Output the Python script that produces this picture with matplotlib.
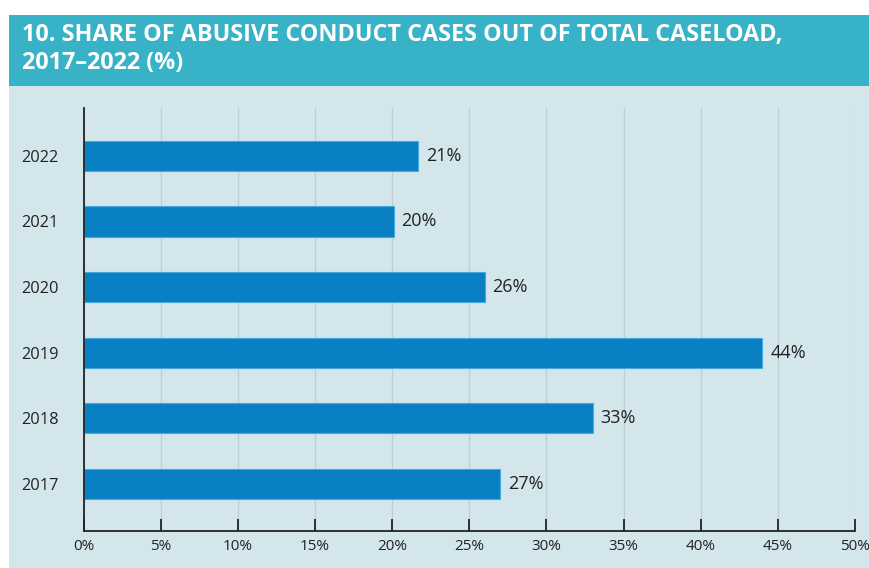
import matplotlib
matplotlib.use('Agg')
from matplotlib import pyplot as plt
from matplotlib.patches import Rectangle
from matplotlib.ticker import FuncFormatter

years = ['2017', '2018', '2019', '2020', '2021', '2022']
shares = [27.0, 33.0, 44.0, 26.0, 20.1, 21.7]
labels = ['27%', '33%', '44%', '26%', '20%', '21%']
xticks = [0, 5, 10, 15, 20, 25, 30, 35, 40, 45, 50]
title = '10. SHARE OF ABUSIVE CONDUCT CASES OUT OF TOTAL CASELOAD,\n2017\u20132022 (%)'

plt.rcParams['font.family'] = ['Open Sans', 'DejaVu Sans']

W, H = 869, 568
fig = plt.figure(figsize=(W / 100, H / 100), dpi=100)
fig.patch.set_facecolor('white')

# panel and header band
fig.patches.append(Rectangle((9 / W, 0), 1, 482 / H, transform=fig.transFigure,
                             facecolor='#d2e6ec', edgecolor='none', zorder=-2))
fig.patches.append(Rectangle((9 / W, 482 / H), 1, 71 / H, transform=fig.transFigure,
                             facecolor='#38b2c6', edgecolor='none', zorder=-2))
fig.text(22 / W, 1 - 23 / H, title, color='white', fontsize=16.8, fontweight='bold',
         va='top', ha='left', linespacing=1.2)

ax = fig.add_axes([83.5 / W, 37 / H, (855 - 83.5) / W, (531 - 108) / H])
ax.set_facecolor('none')
ax.set_zorder(2)

pos = list(range(len(years)))
ax.barh(pos, shares, height=0.46, color='#0880c3', edgecolor='#45a9dc', linewidth=0.8, zorder=3)
for p, v, lab in zip(pos, shares, labels):
    ax.text(v + 0.5, p, lab, va='center', ha='left', fontsize=13, color='#222222')

ax.set_xlim(0, 50)
ax.set_ylim(-0.72, 5.73)
ax.set_yticks(pos)
ax.set_yticklabels(years)
ax.set_xticks(xticks)
ax.xaxis.set_major_formatter(FuncFormatter(lambda v, _: '%d%%' % v))
ax.grid(axis='x', color='#bfcdd3', linewidth=0.9, zorder=0)
ax.tick_params(axis='x', direction='in', length=9, width=1.3, color='#222222',
               labelsize=11, labelcolor='#222222', pad=6)
ax.tick_params(axis='y', length=0, labelsize=11.8, labelcolor='#222222', pad=18)
for s in ['top', 'right']:
    ax.spines[s].set_visible(False)
for s in ['left', 'bottom']:
    ax.spines[s].set_color('#222222')
    ax.spines[s].set_linewidth(1.3)
    ax.spines[s].set_zorder(4)

fig.savefig('out.png', dpi=100)
